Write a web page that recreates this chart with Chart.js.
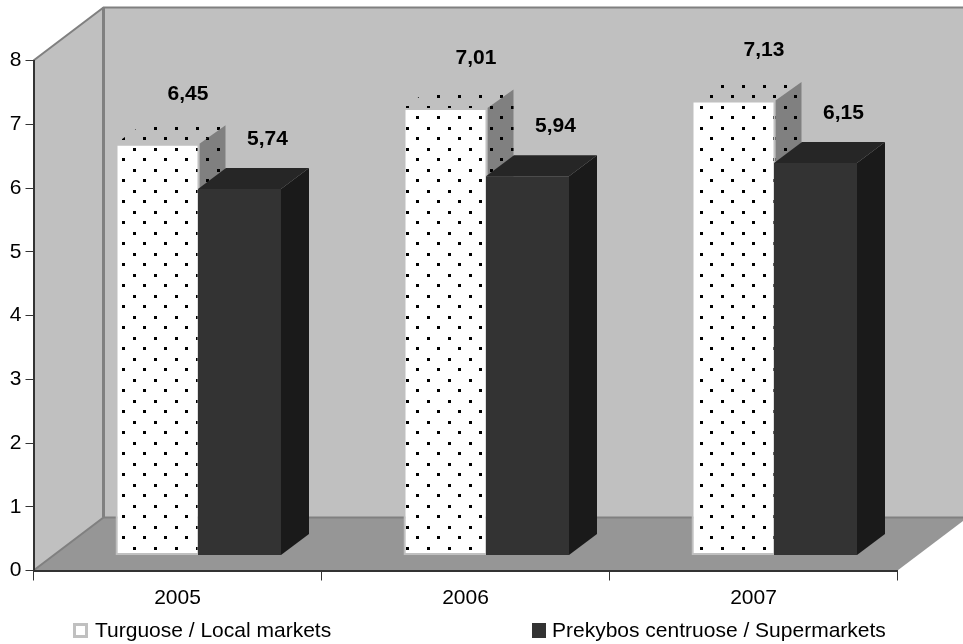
<!DOCTYPE html>
<html>
<head>
<meta charset="utf-8">
<title>Chart</title>
<script src="https://cdn.jsdelivr.net/npm/chart.js@4"></script>
<style>
  html, body { margin: 0; padding: 0; background: #fff; }
  canvas { display: block; }
</style>
</head>
<body>
<canvas id="marketChart" width="963" height="644"></canvas>
<script>
const years = ["2005", "2006", "2007"];
const localMarkets = [6.45, 7.01, 7.13];
const supermarkets = [5.74, 5.94, 6.15];
const localLabel = "Turguose / Local markets";
const superLabel = "Prekybos centruose / Supermarkets";

const FONT = '"Liberation Sans", Arial, sans-serif';
const TEXT_SIZE = 21;
// 3D look: wall depth and how far the bars stand off the axes
const WALL_DX = 70, WALL_DY = 53;
const BAR_LIFT = 15.5;
const PX_PER_UNIT = 510 / 8;
const LIFT_UNITS = BAR_LIFT / PX_PER_UNIT;

function dotPattern(background) {
  const tile = document.createElement("canvas");
  tile.width = 21;
  tile.height = 21;
  const t = tile.getContext("2d");
  if (background) {
    t.fillStyle = background;
    t.fillRect(0, 0, 21, 21);
  }
  // dots sit one pixel left in the tile because the bars are drawn with a -20 shift
  t.fillStyle = "#000";
  t.fillRect(16, 11, 3, 3);
  t.fillRect(6, 1, 3, 3);
  return t.createPattern(tile, "repeat");
}

const clearDots = dotPattern(null);

function face(ctx, pts, color, dotted) {
  ctx.beginPath();
  pts.forEach((p, i) => (i ? ctx.lineTo(p[0], p[1]) : ctx.moveTo(p[0], p[1])));
  ctx.closePath();
  ctx.fillStyle = color;
  ctx.fill();
  if (dotted) {
    ctx.fillStyle = clearDots;
    ctx.fill();
  }
}

const box3d = {
  id: "box3d",
  beforeDraw(chart) {
    const { ctx, chartArea: a } = chart;
    const l = a.left, r = a.right, t = a.top, b = a.bottom;
    ctx.save();
    ctx.fillStyle = "#fff";
    ctx.fillRect(0, 0, chart.width, chart.height);
    // back wall
    ctx.fillStyle = "#c0c0c0";
    ctx.fillRect(l + WALL_DX, t - WALL_DY, r - l, b - t);
    // left wall
    face(ctx, [[l, t], [l + WALL_DX, t - WALL_DY], [l + WALL_DX, b - WALL_DY], [l, b]], "#c0c0c0");
    // floor
    face(ctx, [[l, b], [r, b], [r + WALL_DX, b - WALL_DY], [l + WALL_DX, b - WALL_DY]], "#969696");
    // wall edges
    ctx.strokeStyle = "#808080";
    ctx.lineWidth = 2;
    ctx.beginPath();
    ctx.moveTo(l, t);
    ctx.lineTo(l + WALL_DX, t - WALL_DY);
    ctx.lineTo(chart.width, t - WALL_DY);
    ctx.moveTo(l, b);
    ctx.lineTo(l + WALL_DX, b - WALL_DY);
    ctx.lineTo(chart.width, b - WALL_DY);
    ctx.stroke();
    ctx.lineWidth = 3;
    ctx.beginPath();
    ctx.moveTo(l + WALL_DX, t - WALL_DY);
    ctx.lineTo(l + WALL_DX, b - WALL_DY);
    ctx.stroke();
    ctx.restore();
  },
  beforeDatasetDraw(chart, args) {
    const { ctx } = chart;
    const ds = chart.data.datasets[args.index];
    const dx = ds.depthX, dy = ds.depthY;
    ctx.save();
    ctx.translate(ds.barShift, 0);
    args.meta.data.forEach((bar) => {
      const { x, y, width } = bar.getProps(["x", "y", "width"], true);
      const left = x - width / 2, right = x + width / 2;
      const bottom = bar.base;
      face(ctx, [[left, y], [left + dx, y - dy], [right + dx, y - dy], [right, y]], ds.topColor, ds.dotted);
      face(ctx, [[right, y], [right + dx, y - dy], [right + dx, bottom - dy], [right, bottom]], ds.sideColor, ds.dotted);
    });
  },
  afterDatasetDraw(chart) {
    chart.ctx.restore();
  },
  afterDraw(chart) {
    const { ctx } = chart;
    ctx.save();
    ctx.fillStyle = "#000";
    ctx.font = "bold " + TEXT_SIZE + "px " + FONT;
    ctx.textAlign = "center";
    ctx.textBaseline = "middle";
    chart.data.datasets.forEach((ds, i) => {
      chart.getDatasetMeta(i).data.forEach((bar, j) => {
        const text = ds.data[j].toFixed(2).replace(".", ",");
        ctx.fillText(text, bar.x + ds.barShift + ds.labelShift, bar.y - 50);
      });
    });
    // legend
    ctx.font = TEXT_SIZE + "px " + FONT;
    ctx.textAlign = "left";
    ctx.fillStyle = "#c0c0c0";
    ctx.fillRect(73, 623, 15, 15);
    ctx.fillStyle = "#fff";
    ctx.fillRect(76, 626, 9, 9);
    ctx.fillStyle = "#333";
    ctx.fillRect(532, 623, 14, 15);
    ctx.fillStyle = "#000";
    ctx.fillText(chart.data.datasets[0].label, 95, 631);
    ctx.fillText(chart.data.datasets[1].label, 552, 631);
    ctx.restore();
  },
};

new Chart(document.getElementById("marketChart").getContext("2d"), {
  type: "bar",
  data: {
    labels: years,
    datasets: [
      {
        label: localLabel,
        data: localMarkets,
        yAxisID: "yBars",
        order: 2,
        clip: false,
        grouped: false,
        barPercentage: 84 / 288,
        backgroundColor: dotPattern("#fff"),
        borderColor: "#c0c0c0",
        borderWidth: 2,
        borderSkipped: false,
        barShift: -20,
        labelShift: 30.5,
        depthX: 26,
        depthY: 18.5,
        topColor: "#c0c0c0",
        sideColor: "#808080",
        dotted: true,
      },
      {
        label: superLabel,
        data: supermarkets,
        yAxisID: "yBars",
        order: 1,
        clip: false,
        grouped: false,
        barPercentage: 83 / 288,
        backgroundColor: "#333333",
        borderWidth: 0,
        barShift: 62,
        labelShift: 28,
        depthX: 28,
        depthY: 21,
        topColor: "#262626",
        sideColor: "#1a1a1a",
        dotted: false,
      },
    ],
  },
  options: {
    responsive: false,
    animation: false,
    devicePixelRatio: 1,
    layout: { padding: { top: 60.5, right: 65.5, bottom: 37.5, left: 0 } },
    datasets: { bar: { categoryPercentage: 1 } },
    plugins: { legend: { display: false }, tooltip: { enabled: false } },
    scales: {
      x: {
        grid: { offset: true, drawOnChartArea: false, color: "#333", tickLength: 10, tickWidth: 1 },
        border: { color: "#333", width: 2 },
        ticks: { color: "#000", padding: 5, font: { family: FONT, size: TEXT_SIZE }, maxRotation: 0 },
        afterFit: (s) => { s.height = 36; },
      },
      y: {
        min: 0,
        max: 8,
        grid: { drawOnChartArea: false, color: "#333", tickLength: 8, tickWidth: 1 },
        border: { color: "#333", width: 2 },
        ticks: { stepSize: 1, color: "#000", padding: 4, font: { family: FONT, size: TEXT_SIZE } },
        afterFit: (s) => { s.width = 33.5; },
      },
      // hidden axis so the bars stand on the floor, in front of the value axis
      yBars: { display: false, min: -LIFT_UNITS, max: 8 - LIFT_UNITS },
    },
  },
  plugins: [box3d],
});
</script>
</body>
</html>
